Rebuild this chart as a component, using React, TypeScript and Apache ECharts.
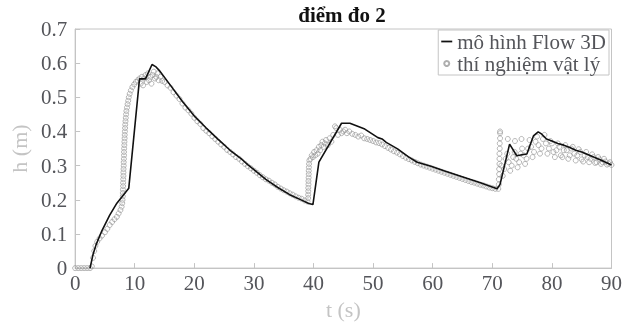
import React, { useEffect, useRef } from "react";
import * as echarts from "echarts";

const titleText = "điểm đo 2";
const xName = "t (s)";
const yName = "h (m)";
const lineName = "mô hình Flow 3D";
const expName = "thí nghiệm vật lý";

// Flow 3D model [t, h]
const flow3d: [number, number][] = [
  [2.5, 0], [3.0, 0.04], [3.5, 0.068], [4.5, 0.11], [5.8, 0.155], [7, 0.19], [8, 0.212], [9, 0.234],
  [10.8, 0.554], [11.8, 0.554], [12.9, 0.596], [13.5, 0.59], [14.1, 0.579], [16, 0.535], [18, 0.488],
  [20, 0.445], [22, 0.41], [24, 0.377], [26, 0.345], [28, 0.318], [29, 0.302], [30, 0.288], [32, 0.26],
  [34, 0.236], [36, 0.215], [38, 0.199], [39.2, 0.189], [39.9, 0.186], [40.9, 0.31], [44.7, 0.424],
  [46.1, 0.424], [48.6, 0.407], [50.8, 0.382], [51.5, 0.378], [52.2, 0.368], [54.1, 0.349], [56, 0.325],
  [57.4, 0.31], [59.7, 0.298], [62, 0.284], [65.2, 0.266], [68, 0.25], [70.8, 0.232], [71.3, 0.245],
  [72.9, 0.363], [74.1, 0.329], [75, 0.332], [75.8, 0.334], [76.9, 0.387], [77.7, 0.399], [78.3, 0.392],
  [79.1, 0.378], [80, 0.372], [81, 0.365], [82, 0.36], [83, 0.353], [84, 0.345], [85, 0.34], [85.8, 0.334],
  [87, 0.325], [88, 0.318], [89, 0.31], [90, 0.302],
];

// Physical experiment [t, h], by segment
const expRise1: [number, number][] = [
  [0, 0], [0.5, 0], [1, 0], [1.5, 0], [2, 0], [2.5, 0], [2.8, 0.005], [3.0, 0.03], [3.2, 0.05], [3.4, 0.065],
  [3.7, 0.077], [4.1, 0.087], [4.5, 0.095], [5, 0.105], [5.4, 0.115], [5.8, 0.126], [6.2, 0.135], [6.6, 0.143],
  [7, 0.15], [7.3, 0.16], [7.6, 0.17], [7.8, 0.18], [7.9, 0.19], [7.95, 0.2], [8.0, 0.21], [8.0, 0.22],
  [8.02, 0.23], [8.05, 0.24], [8.05, 0.25], [8.07, 0.26], [8.1, 0.27], [8.1, 0.28], [8.12, 0.29], [8.15, 0.3],
  [8.15, 0.31], [8.18, 0.32], [8.2, 0.33], [8.2, 0.34], [8.22, 0.35], [8.25, 0.36], [8.27, 0.37], [8.3, 0.38],
  [8.32, 0.39], [8.35, 0.4], [8.38, 0.41], [8.4, 0.42], [8.45, 0.43], [8.5, 0.44], [8.55, 0.45], [8.6, 0.46],
  [8.7, 0.47], [8.8, 0.48], [8.9, 0.49], [9.0, 0.5], [9.15, 0.51], [9.35, 0.52], [9.6, 0.53], [9.9, 0.538],
  [10.2, 0.545], [10.5, 0.55],
];
const expPeak1: [number, number][] = [
  [10.8, 0.555], [11.0, 0.54], [11.2, 0.56], [11.4, 0.535], [11.6, 0.555], [11.8, 0.565], [12.0, 0.545],
  [12.2, 0.57], [12.4, 0.55], [12.6, 0.56], [12.8, 0.54], [13.0, 0.565], [13.2, 0.575], [13.4, 0.555],
  [13.6, 0.56], [13.8, 0.57], [14.0, 0.55], [14.3, 0.56], [14.6, 0.548],
];
const expFall1: [number, number][] = [
  [15, 0.545], [15.5, 0.535], [16, 0.528], [16.5, 0.515], [17, 0.505], [17.5, 0.495], [18, 0.482], [18.5, 0.47],
  [19, 0.462], [19.5, 0.452], [20, 0.44], [20.5, 0.43], [21, 0.422], [21.5, 0.41], [22, 0.402], [22.5, 0.395],
  [23, 0.386], [23.5, 0.378], [24, 0.37], [24.5, 0.362], [25, 0.355], [25.5, 0.346], [26, 0.34], [26.5, 0.333],
  [27, 0.325], [27.5, 0.32], [28, 0.312], [28.5, 0.305], [29, 0.298], [29.5, 0.292], [30, 0.285], [30.5, 0.279],
  [31, 0.272], [31.5, 0.266], [32, 0.26], [32.5, 0.256], [33, 0.25], [33.5, 0.245], [34, 0.238], [34.5, 0.233],
  [35, 0.228], [35.5, 0.224], [36, 0.219], [36.5, 0.215], [37, 0.21], [37.5, 0.206], [38, 0.203], [38.5, 0.198],
  [39, 0.195],
];
const expRise2: [number, number][] = [
  [39.1, 0.205], [39.1, 0.215], [39.12, 0.225], [39.12, 0.235], [39.15, 0.245], [39.15, 0.255], [39.18, 0.265],
  [39.2, 0.275], [39.2, 0.285], [39.22, 0.295], [39.25, 0.305], [39.3, 0.315], [39.5, 0.32], [39.7, 0.33],
  [39.9, 0.325], [40.1, 0.34], [40.3, 0.33], [40.5, 0.345], [40.7, 0.335], [40.9, 0.355], [41.1, 0.345],
  [41.3, 0.36], [41.5, 0.37], [41.7, 0.355], [41.9, 0.365], [42.1, 0.375], [42.4, 0.36], [42.7, 0.38],
  [43.0, 0.37], [43.3, 0.39], [43.6, 0.415], [43.8, 0.41], [44.1, 0.39], [44.4, 0.405], [44.7, 0.395],
  [45.0, 0.4], [45.3, 0.405], [45.6, 0.395],
];
const expFall2: [number, number][] = [
  [46, 0.4], [46.5, 0.393], [47, 0.39], [47.5, 0.385], [48, 0.388], [48.5, 0.38], [49, 0.378], [49.5, 0.375],
  [50, 0.372], [50.5, 0.368], [51, 0.366], [51.5, 0.362], [52, 0.357], [52.5, 0.352], [53, 0.347], [53.5, 0.342],
  [54, 0.338], [54.5, 0.333], [55, 0.328], [55.5, 0.323], [56, 0.319], [56.5, 0.315], [57, 0.311], [57.5, 0.307],
  [58, 0.303], [58.5, 0.3], [59, 0.297], [59.5, 0.294], [60, 0.291], [60.5, 0.288], [61, 0.285], [61.5, 0.282],
  [62, 0.279], [62.5, 0.276], [63, 0.273], [63.5, 0.27], [64, 0.267], [64.5, 0.264], [65, 0.261], [65.5, 0.258],
  [66, 0.255], [66.5, 0.252], [67, 0.25], [67.5, 0.247], [68, 0.244], [68.5, 0.242], [69, 0.239], [69.5, 0.236],
  [70, 0.234], [70.5, 0.232], [71, 0.232],
];
const expRise3: [number, number][] = [
  [71.1, 0.245], [71.1, 0.26], [71.15, 0.275], [71.15, 0.29], [71.2, 0.305], [71.2, 0.32], [71.2, 0.335],
  [71.25, 0.35], [71.25, 0.365], [71.3, 0.38], [71.3, 0.395], [71.3, 0.4], [72.6, 0.378], [73.8, 0.372],
  [74.9, 0.378],
];
const expTail: [number, number][] = [
  [71.5, 0.3], [71.75, 0.27], [72.0, 0.29], [72.25, 0.32], [72.5, 0.335], [72.75, 0.31], [73.0, 0.285],
  [73.25, 0.3], [73.5, 0.325], [73.75, 0.34], [74.0, 0.32], [74.25, 0.295], [74.5, 0.31], [74.75, 0.335],
  [75.0, 0.35], [75.25, 0.33], [75.5, 0.305], [75.75, 0.32], [76.0, 0.35], [76.25, 0.375], [76.5, 0.355],
  [76.75, 0.325], [77.0, 0.34], [77.25, 0.37], [77.5, 0.385], [77.75, 0.36], [78.0, 0.335], [78.25, 0.35],
  [78.5, 0.378], [78.75, 0.39], [79.0, 0.365], [79.25, 0.335], [79.5, 0.35], [79.75, 0.372], [80.0, 0.365],
  [80.25, 0.34], [80.5, 0.325], [80.75, 0.345], [81.0, 0.365], [81.25, 0.355], [81.5, 0.33], [81.75, 0.325],
  [82.0, 0.345], [82.25, 0.36], [82.5, 0.345], [82.75, 0.32], [83.0, 0.33], [83.25, 0.35], [83.5, 0.355],
  [83.75, 0.335], [84.0, 0.315], [84.25, 0.33], [84.5, 0.348], [84.75, 0.34], [85.0, 0.318], [85.25, 0.312],
  [85.5, 0.33], [85.75, 0.34], [86.0, 0.325], [86.25, 0.31], [86.5, 0.32], [86.75, 0.333], [87.0, 0.325],
  [87.25, 0.308], [87.5, 0.31], [87.75, 0.325], [88.0, 0.318], [88.25, 0.305], [88.5, 0.31], [88.75, 0.32],
  [89.0, 0.312], [89.25, 0.303], [89.5, 0.306], [89.75, 0.31], [90.0, 0.302],
];

const FONT = "Times New Roman";

export default function App() {
  const ref = useRef<HTMLDivElement>(null);
  useEffect(() => {
    if (!ref.current) return;
    const chart = echarts.init(ref.current, null, { renderer: "svg" });
    const experiment = [...expRise1, ...expPeak1, ...expFall1, ...expRise2, ...expFall2, ...expRise3, ...expTail];
    const axisLine = { show: true, lineStyle: { color: "#c4c4c4", width: 1 } };
    const tick = { show: true, inside: true, length: 5, lineStyle: { color: "#c4c4c4" } };
    chart.setOption({
      animation: false,
      grid: { left: 72, right: 13, top: 29, bottom: 55, show: true, borderColor: "#c4c4c4", borderWidth: 1 },
      graphic: [
        {
          type: "text",
          x: 342,
          y: 4,
          style: { text: titleText, fontFamily: FONT, fontSize: 21, fontWeight: "bold", fill: "#111", textAlign: "center" },
        },
      ],
      legend: {
        orient: "vertical",
        right: 16,
        top: 30,
        padding: [1, 3, 1, 3],
        itemGap: 1,
        itemWidth: 11,
        itemHeight: 5,
        backgroundColor: "#ffffff",
        borderColor: "#c4c4c4",
        borderWidth: 1,
        borderRadius: 0,
        textStyle: { fontFamily: FONT, fontSize: 21 },
        data: [
          { name: lineName, icon: "path://M0,0H10V1.6H0Z", itemStyle: { color: "#111" } },
          { name: expName },
        ],
      },
      xAxis: {
        type: "value",
        min: 0,
        max: 90,
        interval: 10,
        name: xName,
        nameLocation: "middle",
        nameGap: 26,
        nameTextStyle: { fontFamily: FONT, fontSize: 22 },
        axisLine,
        axisTick: tick,
        splitLine: { show: false },
        axisLabel: { fontFamily: FONT, fontSize: 21, margin: 4 },
      },
      yAxis: {
        type: "value",
        min: 0,
        max: 0.7,
        interval: 0.1,
        name: yName,
        nameLocation: "middle",
        nameGap: 44,
        nameRotate: 90,
        nameTextStyle: { fontFamily: FONT, fontSize: 22 },
        axisLine,
        axisTick: tick,
        splitLine: { show: false },
        axisLabel: { fontFamily: FONT, fontSize: 21, margin: 8 },
      },
      series: [
        {
          name: expName,
          type: "scatter",
          data: experiment,
          symbol: "circle",
          symbolSize: 5,
          itemStyle: { color: "rgba(255,255,255,0)", borderColor: "#9a9a9a", borderWidth: 0.9 },
          z: 2,
        },
        {
          name: lineName,
          type: "line",
          data: flow3d,
          symbol: "none",
          lineStyle: { color: "#111", width: 1.6 },
          itemStyle: { color: "#111" },
          z: 3,
        },
      ],
    });
    return () => chart.dispose();
  }, []);
  return <div ref={ref} style={{ position: "fixed", left: 0, top: 0, width: 625, height: 325 }} />;
}
